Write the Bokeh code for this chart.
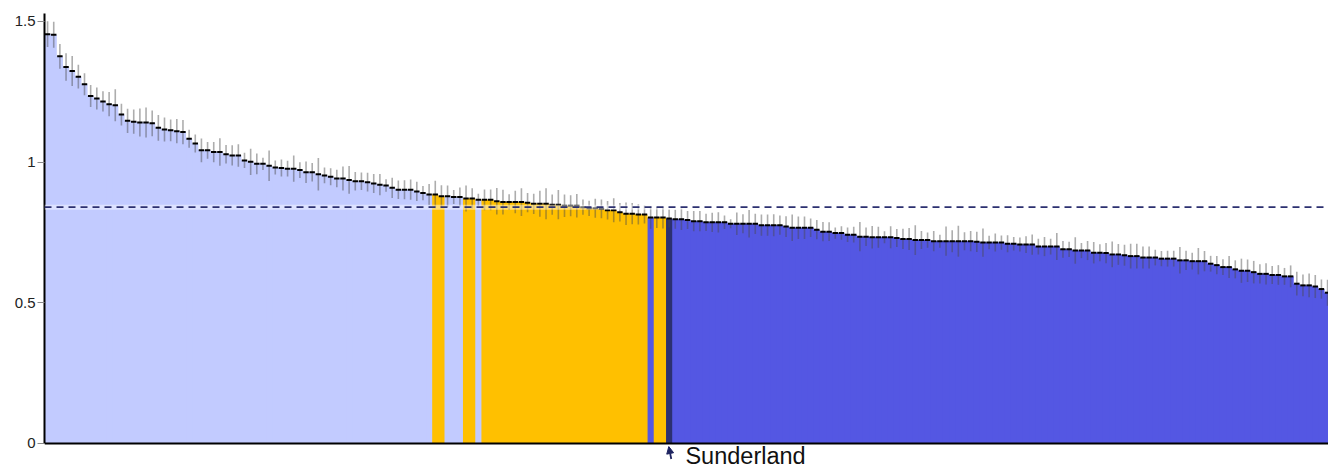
from bokeh.plotting import figure
from bokeh.models import Range1d, Span, Label, Arrow, NormalHead, ColumnDataSource, FixedTicker
from bokeh.embed import file_html
from bokeh.resources import INLINE

# ---- data ----
values = [
    1.455, 1.453, 1.376, 1.338, 1.324, 1.304, 1.277, 1.235, 1.226, 1.216,
    1.206, 1.202, 1.169, 1.147, 1.144, 1.141, 1.141, 1.138, 1.122, 1.116,
    1.113, 1.110, 1.107, 1.083, 1.066, 1.042, 1.042, 1.036, 1.036, 1.028,
    1.024, 1.024, 1.006, 1.001, 0.994, 0.994, 0.987, 0.981, 0.979, 0.977,
    0.977, 0.972, 0.964, 0.964, 0.957, 0.953, 0.948, 0.942, 0.942, 0.937,
    0.932, 0.932, 0.929, 0.924, 0.920, 0.917, 0.909, 0.902, 0.902, 0.902,
    0.896, 0.890, 0.885, 0.885, 0.879, 0.879, 0.876, 0.876, 0.871, 0.871,
    0.866, 0.866, 0.866, 0.861, 0.858, 0.858, 0.858, 0.858, 0.856, 0.852,
    0.852, 0.852, 0.849, 0.849, 0.845, 0.845, 0.845, 0.840, 0.836, 0.836,
    0.834, 0.829, 0.829, 0.822, 0.817, 0.817, 0.814, 0.814, 0.803, 0.803,
    0.803, 0.800, 0.797, 0.797, 0.794, 0.790, 0.790, 0.786, 0.786, 0.786,
    0.786, 0.781, 0.781, 0.781, 0.781, 0.781, 0.776, 0.776, 0.776, 0.776,
    0.771, 0.767, 0.767, 0.767, 0.767, 0.760, 0.753, 0.753, 0.748, 0.748,
    0.742, 0.742, 0.735, 0.735, 0.733, 0.733, 0.733, 0.733, 0.730, 0.727,
    0.727, 0.723, 0.723, 0.723, 0.719, 0.719, 0.719, 0.719, 0.719, 0.719,
    0.719, 0.717, 0.714, 0.714, 0.714, 0.714, 0.710, 0.710, 0.707, 0.707,
    0.707, 0.700, 0.700, 0.700, 0.700, 0.690, 0.690, 0.686, 0.686, 0.686,
    0.678, 0.678, 0.677, 0.672, 0.672, 0.669, 0.666, 0.666, 0.661, 0.661,
    0.661, 0.657, 0.657, 0.657, 0.651, 0.651, 0.648, 0.648, 0.648, 0.639,
    0.634, 0.627, 0.627, 0.619, 0.614, 0.614, 0.609, 0.603, 0.603, 0.599,
    0.599, 0.594, 0.594, 0.568, 0.562, 0.562, 0.558, 0.549, 0.536,
]

errors = [
    0.046, 0.046, 0.044, 0.049, 0.053, 0.042, 0.039, 0.039, 0.039, 0.036,
    0.043, 0.057, 0.039, 0.043, 0.043, 0.050, 0.053, 0.046, 0.046, 0.043,
    0.039, 0.043, 0.043, 0.032, 0.032, 0.042, 0.030, 0.036, 0.049, 0.033,
    0.036, 0.040, 0.027, 0.047, 0.037, 0.022, 0.054, 0.025, 0.030, 0.028,
    0.047, 0.028, 0.038, 0.033, 0.058, 0.028, 0.030, 0.031, 0.043, 0.049,
    0.033, 0.031, 0.033, 0.034, 0.038, 0.022, 0.036, 0.033, 0.034, 0.036,
    0.034, 0.025, 0.037, 0.049, 0.039, 0.038, 0.025, 0.034, 0.046, 0.036,
    0.022, 0.037, 0.037, 0.047, 0.044, 0.028, 0.040, 0.049, 0.034, 0.036,
    0.046, 0.055, 0.036, 0.052, 0.040, 0.037, 0.042, 0.027, 0.027, 0.034,
    0.033, 0.033, 0.043, 0.033, 0.040, 0.038, 0.036, 0.032, 0.040, 0.037,
    0.039, 0.032, 0.034, 0.038, 0.032, 0.036, 0.036, 0.031, 0.034, 0.036,
    0.024, 0.016, 0.040, 0.034, 0.049, 0.036, 0.038, 0.038, 0.039, 0.034,
    0.037, 0.047, 0.040, 0.040, 0.033, 0.034, 0.034, 0.033, 0.020, 0.024,
    0.026, 0.028, 0.052, 0.033, 0.040, 0.037, 0.021, 0.039, 0.032, 0.036,
    0.039, 0.053, 0.032, 0.027, 0.036, 0.023, 0.052, 0.039, 0.055, 0.032,
    0.036, 0.036, 0.050, 0.024, 0.032, 0.025, 0.030, 0.024, 0.025, 0.030,
    0.036, 0.028, 0.034, 0.028, 0.048, 0.030, 0.027, 0.047, 0.027, 0.034,
    0.038, 0.030, 0.036, 0.046, 0.037, 0.037, 0.044, 0.044, 0.039, 0.039,
    0.028, 0.027, 0.028, 0.028, 0.047, 0.034, 0.030, 0.047, 0.036, 0.028,
    0.032, 0.028, 0.039, 0.032, 0.043, 0.040, 0.040, 0.034, 0.038, 0.032,
    0.035, 0.030, 0.039, 0.042, 0.039, 0.042, 0.041, 0.034, 0.046,
]

# significance group of each bar, given as runs (group, count)
group_runs = [
    ("higher", 63), ("similar", 2), ("higher", 3), ("similar", 2), ("higher", 1),
    ("similar", 27), ("lower", 1), ("similar", 2), ("highlight", 1), ("lower", 107),
]
highlight_name = "Sunderland"
benchmark = 0.84
y_ticks = [0, 0.5, 1, 1.5]
y_tick_labels = ["0", "0.5", "1", "1.5"]

group_colors = {
    "higher": "#C2CBFF",
    "similar": "#FFC000",
    "lower": "#5457E3",
    "highlight": "#2C3070",
}

# ---- build ----
groups = [g for g, cnt in group_runs for _ in range(cnt)]
n = len(values)
idx = list(range(n))
src = ColumnDataSource(dict(
    mid=[i + 0.5 for i in idx],
    s0=[i + 0.06 for i in idx],
    s1=[i + 0.94 for i in idx],
    top=values,
    lo=[v - e for v, e in zip(values, errors)],
    hi=[v + e for v, e in zip(values, errors)],
))
# bars drawn right-to-left, each widened leftwards under its (taller) neighbour,
# so that no anti-aliased seams show between adjacent bars
rev = idx[::-1]
bar_src = ColumnDataSource(dict(
    left=[i - 0.6 if i > 0 else 0 for i in rev],
    right=[i + 1 for i in rev],
    top=[values[i] for i in rev],
    color=[group_colors[groups[i]] for i in rev],
))
hl = groups.index("highlight")

Y_TOP = 1.5284
Y_BOTTOM = -0.0818   # room under the baseline for the highlight label

p = figure(
    width=1328, height=466,
    x_range=Range1d(0, n - 0.35), y_range=Range1d(Y_BOTTOM, Y_TOP),
    output_backend="svg", toolbar_location=None,
    min_border_left=44, min_border_right=0, min_border_top=13, min_border_bottom=0,
    outline_line_color=None, background_fill_color="white", border_fill_color="white",
)
p.grid.visible = False
p.xaxis.visible = False

p.quad(left="left", right="right", bottom=0, top="top", source=bar_src,
       fill_color="color", line_color=None)
p.segment(x0="mid", y0="lo", x1="mid", y1="hi", source=src,
          line_color="#4a4a4a", line_alpha=0.45, line_width=1.6)
p.segment(x0="s0", y0="top", x1="s1", y1="top", source=src,
          line_color="black", line_width=2)

p.add_layout(Span(location=benchmark, dimension="width", line_color="white",
                  line_alpha=0.45, line_width=5))
p.add_layout(Span(location=benchmark, dimension="width", line_color="#2C3070",
                  line_dash="7 5", line_width=1.6))
# baseline (x axis line)
p.add_layout(Span(location=0, dimension="width", line_color="black", line_width=2))

# y axis
p.yaxis.bounds = (0, Y_TOP)
p.yaxis.ticker = FixedTicker(ticks=y_ticks)
p.yaxis.major_label_overrides = {t: lab for t, lab in zip(y_ticks, y_tick_labels)}
p.yaxis.minor_tick_line_color = None
p.yaxis.major_tick_in = 0
p.yaxis.major_tick_out = 7
p.yaxis.major_tick_line_color = "#888888"
p.yaxis.axis_line_color = "black"
p.yaxis.axis_line_width = 2
p.yaxis.major_label_standoff = 2
p.yaxis.major_label_text_font = "Liberation Sans"
p.yaxis.major_label_text_font_size = "15px"
p.yaxis.major_label_text_color = "#222222"

# highlight annotation
navy = "#1E2460"
p.add_layout(Arrow(end=NormalHead(size=7, fill_color=navy, line_color=navy),
                   x_start=hl + 0.85, y_start=-0.055, x_end=hl + 0.45, y_end=-0.011,
                   line_color=navy, line_width=1.8))
p.add_layout(Label(x=hl + 3.15, y=-0.0462, text=highlight_name,
                   text_font="Liberation Sans", text_font_size="23.5px",
                   text_baseline="alphabetic", text_color="#111111"))

open("out.html", "w").write(file_html(p, INLINE))
